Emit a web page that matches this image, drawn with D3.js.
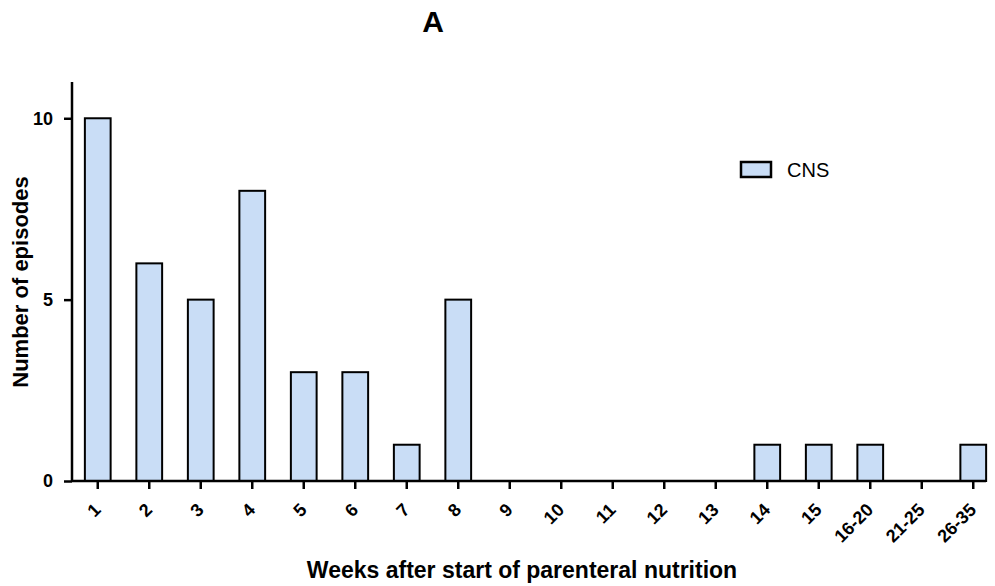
<!DOCTYPE html>
<html>
<head>
<meta charset="utf-8">
<script src="https://cdn.jsdelivr.net/npm/d3@7"></script>
<style>
  html, body { margin: 0; padding: 0; background: #fff; }
  text { font-family: "Liberation Sans", Arial, sans-serif; }
</style>
</head>
<body>
<svg id="chart" width="995" height="586"></svg>
<script>
// Weekly counts of CNS episodes after start of parenteral nutrition
const categories = ["1","2","3","4","5","6","7","8","9","10","11","12","13","14","15","16-20","21-25","26-35"];
const cnsEpisodes = [10, 6, 5, 8, 3, 3, 1, 5, 0, 0, 0, 0, 0, 1, 1, 1, 0, 1];
const yTicks = [0, 5, 10];
const seriesName = "CNS";

const svg = d3.select("#chart");
const plotLeft = 72, plotRight = 999, plotTop = 82, plotBottom = 481;

const x = d3.scaleBand().domain(categories).range([plotLeft, plotRight]).paddingInner(0.5).paddingOuter(0.25);
const y = d3.scaleLinear().domain([0, 11]).range([plotBottom, plotTop]);

const fill = "#c9ddf6";

// bars
svg.append("g").selectAll("rect")
  .data(categories.map((c, i) => ({ c, v: cnsEpisodes[i] })))
  .join("rect")
  .attr("x", d => x(d.c))
  .attr("width", x.bandwidth())
  .attr("y", d => y(d.v))
  .attr("height", d => y(0) - y(d.v))
  .attr("fill", fill)
  .attr("stroke", "#000")
  .attr("stroke-width", 2);

// y axis
const yAxis = svg.append("g").attr("transform", `translate(${plotLeft},0)`)
  .call(d3.axisLeft(y).tickValues(yTicks).tickSize(8).tickPadding(11).tickFormat(d3.format("d")));
yAxis.select(".domain").attr("stroke-width", 2.5).attr("d", `M0,${plotTop}V${plotBottom}`);
yAxis.selectAll(".tick line").attr("stroke-width", 2.5);
yAxis.selectAll("text").attr("font-size", 18).attr("font-weight", "bold").attr("fill", "#000");

// x axis
const xAxis = svg.append("g").attr("transform", `translate(0,${plotBottom})`)
  .call(d3.axisBottom(x).tickSize(8));
xAxis.select(".domain").attr("stroke-width", 2.5).attr("d", `M${plotLeft},0H986`);
xAxis.selectAll(".tick line").attr("stroke-width", 2.5);
xAxis.selectAll("text")
  .attr("font-size", 18).attr("font-weight", "bold").attr("fill", "#000")
  .attr("text-anchor", "end")
  .attr("x", 0).attr("y", 0).attr("dy", 0)
  .attr("transform", "translate(4,30) rotate(-45)");

// title and axis labels
svg.append("text").attr("x", 433).attr("y", 32).attr("text-anchor", "middle")
  .attr("font-size", 30).attr("font-weight", "bold").text("A");

svg.append("text").attr("x", 522).attr("y", 578).attr("text-anchor", "middle")
  .attr("font-size", 23).attr("font-weight", "bold").text("Weeks after start of parenteral nutrition");

svg.append("text").attr("transform", "translate(27.5,282) rotate(-90)").attr("text-anchor", "middle")
  .attr("font-size", 22).attr("font-weight", "bold").text("Number of episodes");

// legend
const lg = svg.append("g").attr("transform", "translate(741,162)");
lg.append("rect").attr("width", 30).attr("height", 15).attr("fill", fill).attr("stroke", "#000").attr("stroke-width", 2.5);
lg.append("text").attr("x", 46).attr("y", 14.7).attr("font-size", 20).text(seriesName);
</script>
</body>
</html>
